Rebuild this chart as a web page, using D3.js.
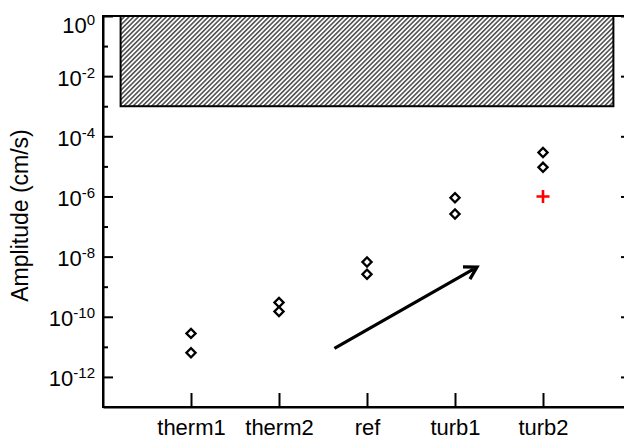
<!DOCTYPE html>
<html>
<head>
<meta charset="utf-8">
<script src="https://cdn.jsdelivr.net/npm/d3@7"></script>
<style>
  html, body { margin: 0; padding: 0; background: #fff; }
  svg { display: block; font-family: "Liberation Sans", Arial, Helvetica, sans-serif; }
</style>
</head>
<body>
<svg id="chart" width="624" height="441"></svg>
<script>
// ---- data ----
const categories = ["therm1", "therm2", "ref", "turb1", "turb2"];
const upperAmp = [2.8e-11, 3.0e-10, 6.6e-9, 9.1e-7, 2.9e-5];
const lowerAmp = [6.4e-12, 1.5e-10, 2.6e-9, 2.6e-7, 9.3e-6];
const redCategory = ["turb2"];
const redAmp = [1.0e-6];
const boxX = [0.2, 5.8];
const boxY = [1e-3, 1];
const arrowX = [2.63, 4.25];
const arrowY = [8.9e-12, 4.5e-9];
const majorExp = [0, -2, -4, -6, -8, -10, -12];
const minorExp = [-1, -3, -5, -7, -9, -11];
const yLabel = "Amplitude (cm/s)";

// ---- scales ----
const svg = d3.select("#chart");
const x = d3.scaleLinear().domain([0, 6]).range([103, 631]);
const y = d3.scaleLog().domain([1e-13, 1]).range([407, 16]);
const catPos = d => categories.indexOf(d) + 1;

// hatch pattern
const defs = svg.append("defs");
const pat = defs.append("pattern")
  .attr("id", "hatch").attr("patternUnits", "userSpaceOnUse")
  .attr("width", 3.3).attr("height", 3.3)
  .attr("patternTransform", "rotate(45)");
pat.append("rect").attr("width", 3.3).attr("height", 3.3).attr("fill", "#fff");
pat.append("line").attr("x1", 0.8).attr("y1", 0).attr("x2", 0.8).attr("y2", 3.3)
  .attr("stroke", "#2a2a2a").attr("stroke-width", 1.3);

// hatched box
svg.append("rect")
  .attr("x", x(boxX[0])).attr("y", y(boxY[1]))
  .attr("width", x(boxX[1]) - x(boxX[0]))
  .attr("height", y(boxY[0]) - y(boxY[1]))
  .attr("fill", "url(#hatch)").attr("stroke", "#000").attr("stroke-width", 2);

// frame
svg.append("rect")
  .attr("x", x(0)).attr("y", y(1))
  .attr("width", x(6) - x(0)).attr("height", y(1e-13) - y(1))
  .attr("fill", "none").attr("stroke", "#000").attr("stroke-width", 2);

// left axis major
const majorVals = majorExp.map(e => Math.pow(10, e));
const minorVals = minorExp.map(e => Math.pow(10, e));
const gL = svg.append("g").attr("transform", `translate(${x(0)},0)`)
  .call(d3.axisLeft(y).tickValues(majorVals).tickSize(-10).tickSizeOuter(0).tickPadding(8));
gL.select(".domain").attr("stroke-width", 2);
gL.selectAll(".tick line").attr("stroke-width", 2);
gL.selectAll(".tick text").each(function(d) {
  const e = Math.round(Math.log10(d));
  const t = d3.select(this);
  t.text(null).attr("font-size", 22).attr("fill", "#000")
   .attr("dy", e === 0 ? 16 : 9).attr("text-anchor", "end");
  t.append("tspan").text("10");
  t.append("tspan").attr("font-size", 15).attr("dy", -8).text(String(e));
});
// left minor
const gLm = svg.append("g").attr("transform", `translate(${x(0)},0)`)
  .call(d3.axisLeft(y).tickValues(minorVals).tickSize(-5).tickSizeOuter(0).tickFormat(""));
gLm.select(".domain").remove();
gLm.selectAll(".tick line").attr("stroke-width", 2);

// right axis ticks
const gR = svg.append("g").attr("transform", `translate(${x(6)},0)`)
  .call(d3.axisRight(y).tickValues(majorVals).tickSize(-10).tickSizeOuter(0).tickFormat(""));
gR.select(".domain").attr("stroke-width", 2);
gR.selectAll(".tick line").attr("stroke-width", 2);
const gRm = svg.append("g").attr("transform", `translate(${x(6)},0)`)
  .call(d3.axisRight(y).tickValues(minorVals).tickSize(-5).tickSizeOuter(0).tickFormat(""));
gRm.select(".domain").remove();
gRm.selectAll(".tick line").attr("stroke-width", 2);

// bottom axis
const gB = svg.append("g").attr("transform", `translate(0,${y(1e-13)})`)
  .call(d3.axisBottom(x).tickValues(categories.map((c, i) => i + 1))
    .tickSize(-14).tickSizeOuter(0).tickPadding(12)
    .tickFormat(d => categories[d - 1]));
gB.select(".domain").attr("stroke-width", 2);
gB.selectAll(".tick line").attr("stroke-width", 2);
gB.selectAll(".tick text").attr("font-size", 22).attr("fill", "#000");

// y label
svg.append("text")
  .attr("transform", `translate(28,${(y(1) + y(1e-13)) / 2 + 4}) rotate(-90)`)
  .attr("text-anchor", "middle").attr("font-size", 23).text(yLabel);

// diamonds
const diamond = d3.symbol().type(d3.symbolSquare).size(42);
const pts = [];
categories.forEach((c, i) => {
  pts.push({ c, v: upperAmp[i] });
  pts.push({ c, v: lowerAmp[i] });
});
svg.append("g").selectAll("path").data(pts).join("path")
  .attr("d", diamond)
  .attr("transform", d => `translate(${x(catPos(d.c))},${y(d.v)}) rotate(45)`)
  .attr("fill", "#fff").attr("stroke", "#000").attr("stroke-width", 2.3);

// red plus
const plus = d3.symbol().type({
  draw(ctx, size) {
    const r = Math.sqrt(size) / 2;
    ctx.moveTo(-r, 0); ctx.lineTo(r, 0);
    ctx.moveTo(0, -r); ctx.lineTo(0, r);
  }
}).size(169);
svg.append("g").selectAll("path").data(redCategory.map((c, i) => ({ c, v: redAmp[i] }))).join("path")
  .attr("d", plus)
  .attr("transform", d => `translate(${x(catPos(d.c))},${y(d.v)})`)
  .attr("fill", "none").attr("stroke", "#f00").attr("stroke-width", 2.6);

// arrow
const x0 = x(arrowX[0]), y0 = y(arrowY[0]), x1 = x(arrowX[1]), y1 = y(arrowY[1]);
const ang = Math.atan2(y1 - y0, x1 - x0);
const hl = 14, ha = Math.PI / 6;
const ap = d3.path();
ap.moveTo(x0, y0); ap.lineTo(x1, y1);
ap.moveTo(x1 - hl * Math.cos(ang - ha), y1 - hl * Math.sin(ang - ha));
ap.lineTo(x1, y1);
ap.lineTo(x1 - hl * Math.cos(ang + ha), y1 - hl * Math.sin(ang + ha));
svg.append("path").attr("d", ap.toString())
  .attr("fill", "none").attr("stroke", "#000").attr("stroke-width", 3.2)
  .attr("stroke-linejoin", "miter").attr("stroke-linecap", "butt");
</script>
</body>
</html>
